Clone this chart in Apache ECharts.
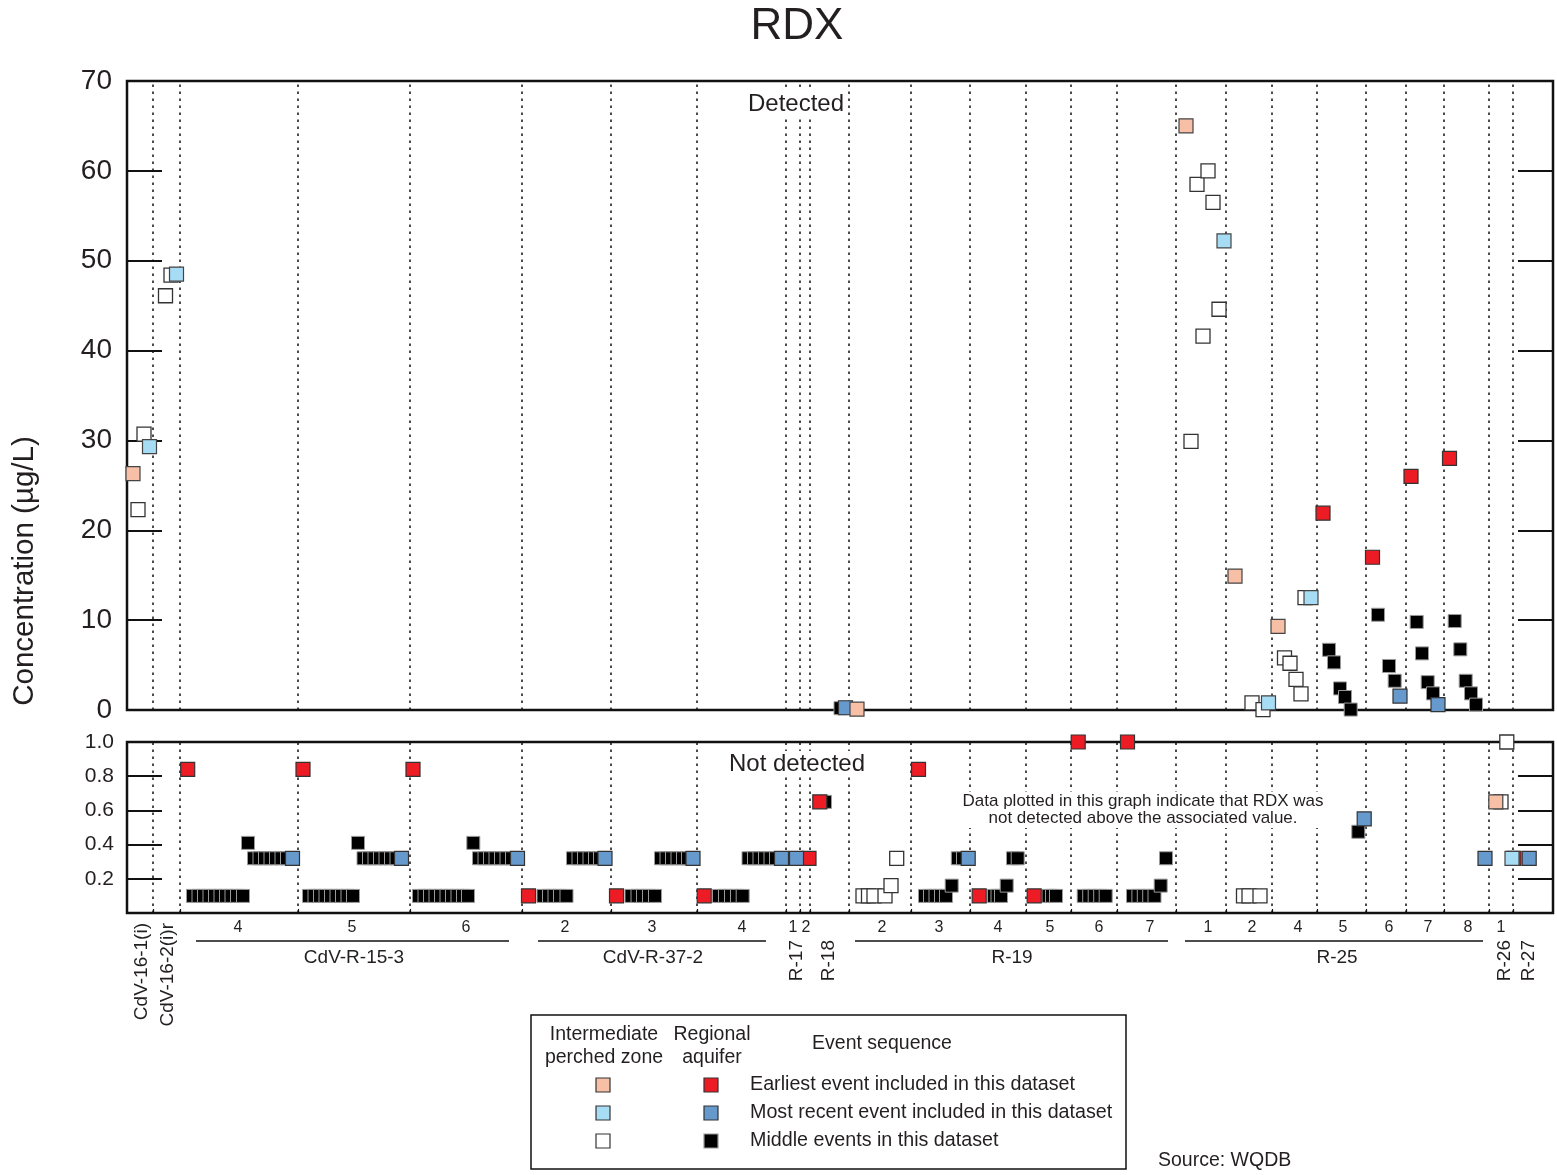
<!DOCTYPE html>
<html><head><meta charset="utf-8">
<script src="https://cdn.jsdelivr.net/npm/echarts@6/dist/echarts.min.js"></script>
<style>html,body{margin:0;padding:0;background:#fff}#c{width:1557px;height:1175px}</style>
</head><body><div id="c"></div>
<script>
// ---------------- DATA ----------------
// x = position along the well / screen sequence axis (0 .. 1426)
const xMax = 1426;
const screenBounds = [26, 53, 171, 283, 395, 484, 570, 659, 673, 683, 722, 784, 843, 899, 944, 990, 1049, 1099, 1145, 1190, 1239, 1279, 1317, 1362, 1386];
const screenLabels = ['4','5','6','2','3','4','1','2','2','3','4','5','6','7','1','2','4','5','6','7','8','1'];
const screenLabelPos = [111, 225, 339, 438, 525, 615, 666, 679, 755, 812, 871, 923, 972, 1023, 1081, 1125, 1171, 1216, 1262, 1301, 1341, 1374];
const wellGroupNames = ['CdV-R-15-3', 'CdV-R-37-2', 'R-19', 'R-25'];
const wellGroupFrom = [69, 411, 728, 1058];
const wellGroupTo = [382, 639, 1041, 1356];
const wellGroupLabelPos = [227, 526, 885, 1210];
const singleWellNames = ['CdV-16-1(i)', 'CdV-16-2(i)r', 'R-17', 'R-18', 'R-26', 'R-27'];
const singleWellPos = [15, 41, 670, 702, 1378, 1402];
const singleWellLong = [true, true, false, false, false, false];

const detTicks = [0, 10, 20, 30, 40, 50, 60, 70];
const ndTicks = [0, 0.2, 0.4, 0.6, 0.8, 1.0];

// Detected (µg/L)
const detBlack = [[713.5,0.2],[1202,6.7],[1207,5.3],[1213,2.4],[1218,1.45],[1223.7,0.05],[1251,10.6],[1262,4.9],[1267.7,3.25],[1289.7,9.8],[1295,6.3],[1300.7,3.1],[1306,1.85],[1327.7,9.9],[1333.3,6.75],[1338.7,3.25],[1344,1.85],[1349,0.6]];
const detRed = [[1196,21.9],[1245.5,17.0],[1284,26.0],[1322.5,28.0]];
const detBlue = [[718.5,0.25],[1273,1.55],[1311,0.6]];
const detWhite = [[11,22.3],[17,30.7],[38.5,46.1],[44,48.4],[1064,29.9],[1070,58.5],[1076,41.6],[1081,60.0],[1086,56.5],[1092,44.6],[1125,0.8],[1136,0.05],[1157.5,5.8],[1163,5.2],[1169,3.4],[1174,1.8],[1178,12.5]];
const detPeach = [[6,26.3],[730,0.1],[1059,65.0],[1108,14.9],[1151,9.3]];
const detLightBlue = [[22.5,29.3],[49.5,48.5],[1097,52.2],[1141.5,0.8],[1184,12.5]];

// Not detected (reporting value, µg/L)
const ndBlack = [
 [66,0.1],[71.5,0.1],[77,0.1],[82.5,0.1],[88,0.1],[93.5,0.1],[99,0.1],[104.5,0.1],[110,0.1],[116,0.1],[121,0.41],
 [127,0.32],[132.5,0.32],[138,0.32],[143.5,0.32],[149,0.32],[154.5,0.32],[160,0.32],
 [182,0.1],[187.5,0.1],[193,0.1],[198.5,0.1],[204,0.1],[209.5,0.1],[215,0.1],[220.5,0.1],[226,0.1],[231,0.41],
 [236.5,0.32],[242,0.32],[247.5,0.32],[253,0.32],[258.5,0.32],[264,0.32],[269.5,0.32],
 [292,0.1],[297.5,0.1],[303,0.1],[308.5,0.1],[314,0.1],[319.5,0.1],[325,0.1],[330.5,0.1],[336,0.1],[341,0.1],[346.3,0.41],
 [352,0.32],[357.5,0.32],[363,0.32],[368.5,0.32],[374,0.32],[379.5,0.32],[385,0.32],
 [416.5,0.1],[422,0.1],[427.5,0.1],[433,0.1],[439.5,0.1],[446,0.32],[451.5,0.32],[457,0.32],[462.5,0.32],[468,0.32],[473,0.32],
 [504.5,0.1],[510.5,0.1],[516,0.1],[522,0.1],[528,0.1],[534,0.32],[539.5,0.32],[545,0.32],[550.5,0.32],[556,0.32],[561,0.32],
 [592,0.1],[598,0.1],[604,0.1],[610,0.1],[615.7,0.1],[621.5,0.32],[627,0.32],[632.5,0.32],[638,0.32],[643.5,0.32],[649,0.32],
 [698,0.65],
 [798,0.1],[803,0.1],[808.5,0.1],[814,0.1],[819,0.1],[824.7,0.16],[830.8,0.32],[836,0.32],
 [867,0.1],[870.5,0.1],[874,0.1],[879.7,0.16],[886,0.32],[890.7,0.32],
 [921.5,0.1],[925,0.1],[929,0.1],
 [956.7,0.1],[962.2,0.1],[967.7,0.1],[973.2,0.1],[978.7,0.1],
 [1006,0.1],[1011.4,0.1],[1016.8,0.1],[1022.2,0.1],[1027.5,0.1],[1033.7,0.16],[1039,0.32],
 [1231.3,0.475]
];
const ndRed = [[60.7,0.84],[176,0.84],[286,0.84],[401.5,0.1],[489.5,0.1],[577.2,0.1],[682,0.32],[692.8,0.65],[791.5,0.84],[852.2,0.1],[907.2,0.1],[951.2,1.0],[1000.5,1.0],[1387,0.32]];
const ndBlue = [[165.5,0.32],[274.5,0.32],[390.5,0.32],[478,0.32],[566,0.32],[654.5,0.32],[669.5,0.32],[841.2,0.32],[1237.2,0.55],[1358,0.32],[1402.2,0.32]];
const ndWhite = [[736,0.1],[741.5,0.1],[747,0.1],[758,0.1],[764,0.16],[769.7,0.32],[1116.5,0.1],[1122,0.1],[1133,0.1],[1374,0.65],[1379.8,1.0]];
const ndPeach = [[1368.8,0.65]];
const ndLightBlue = [[1385,0.32]];

// ---------------- STYLE ----------------
const FONT = '"Liberation Sans", Arial, Helvetica, sans-serif';
const TXT = '#231F20';
const COL = {peach:'#F7BFA6', lightBlue:'#A7DCF5', white:'#FFFFFF', red:'#ED1C24', blue:'#6699CC', black:'#000000'};

function sc(data, gi, color, border, size, bw) {
  return {type:'scatter', xAxisIndex: gi, yAxisIndex: gi * 2, data: data, symbol: 'rect', symbolSize: size,
    clip: false, z: 3, silent: true, animation: false,
    itemStyle: {color: color, borderColor: border, borderWidth: bw, opacity: 1}};
}
function panelSeries(gi, black, red, blue, white, peach, lb) {
  return [
    sc(black, gi, COL.black, '#9a9a9a', 13, 1),
    sc(red, gi, COL.red, '#333', 14, 1.2),
    sc(blue, gi, COL.blue, '#333', 14, 1.2),
    sc(white, gi, COL.white, '#333', 14, 1.3),
    sc(peach, gi, COL.peach, '#444', 14, 1.2),
    sc(lb, gi, COL.lightBlue, '#444', 14, 1.2)
  ];
}
function dividerSeries(gi) {
  return {type:'scatter', xAxisIndex: gi, yAxisIndex: gi * 2, data: [], z: 1, silent: true, animation: false,
    markLine: {silent: true, animation: false, z: 1, symbol: ['none','none'], label: {show: false},
      lineStyle: {color: '#111', width: 1.5, type: [2.5, 4.5]},
      data: screenBounds.map(v => ({xAxis: v}))}};
}
function yAx(gi, ticks, pos, showLabel, fs, margin, fmt) {
  return {type:'value', gridIndex: gi, position: pos, min: ticks[0], max: ticks[ticks.length-1],
    interval: ticks[1] - ticks[0], axisLine: {show: false}, splitLine: {show: false},
    axisTick: {show: true, inside: true, length: 35, lineStyle: {color: '#111', width: 2}},
    axisLabel: {show: showLabel, fontSize: fs, fontFamily: FONT, color: TXT, margin: margin, formatter: fmt}};
}

const chart = echarts.init(document.getElementById('c'), null, {renderer: 'canvas'});
const option = {
  animation: false,
  backgroundColor: '#fff',
  grid: [
    {left: 127, top: 81, width: 1426, height: 629, show: true, borderColor: '#111', borderWidth: 2.5, backgroundColor: 'transparent'},
    {left: 127, top: 742, width: 1426, height: 171, show: true, borderColor: '#111', borderWidth: 2.5, backgroundColor: 'transparent'}
  ],
  xAxis: [
    {type: 'value', gridIndex: 0, min: 0, max: xMax, show: false},
    {type: 'value', gridIndex: 1, min: 0, max: xMax, axisLine: {show: false}, splitLine: {show: false},
     axisTick: {show: true, inside: true, length: 4, customValues: screenBounds, lineStyle: {color: '#111', width: 1.2}},
     axisLabel: {show: false}}
  ],
  yAxis: [
    yAx(0, detTicks, 'left', true, 28, 15, v => String(v)),
    yAx(0, detTicks, 'right', false, 28, 15, v => String(v)),
    yAx(1, ndTicks, 'left', true, 21, 13, v => (v === 0 ? '' : v.toFixed(1))),
    yAx(1, ndTicks, 'right', false, 21, 13, v => String(v))
  ],
  series: [dividerSeries(0), dividerSeries(1)]
    .concat(panelSeries(0, detBlack, detRed, detBlue, detWhite, detPeach, detLightBlue))
    .concat(panelSeries(1, ndBlack, ndRed, ndBlue, ndWhite, ndPeach, ndLightBlue))
};
chart.setOption(option);

// ---------- text / annotation graphics (positions via the library's axis) ----------
const px = v => chart.convertToPixel({xAxisIndex: 1}, v);
const axisY = chart.convertToPixel({yAxisIndex: 2}, 0);
function txt(x, y, text, size, align, vAlign, extra) {
  const el = {type: 'text', x: x, y: y, z: 50, silent: true,
    style: {text: text, font: size + 'px ' + FONT, fill: TXT, align: align || 'center', verticalAlign: vAlign || 'middle'}};
  return Object.assign(el, extra || {});
}
const g = [];
g.push(txt(797, 27, 'RDX', 44));
g.push(txt(25, 571, 'Concentration (µg/L)', 29.5, 'center', 'middle', {rotation: Math.PI / 2}));
const det = txt(796, 104, 'Detected', 24); det.style.backgroundColor = '#fff'; det.style.padding = [1, 3]; g.push(det);
const nd = txt(797, 764, 'Not detected', 24); nd.style.backgroundColor = '#fff'; nd.style.padding = [1, 3]; g.push(nd);
const note = txt(1143, 810, 'Data plotted in this graph indicate that RDX was\nnot detected above the associated value.', 17);
note.style.backgroundColor = '#fff'; note.style.lineHeight = 17; note.style.padding = [1, 3]; g.push(note);

screenLabels.forEach((s, i) => g.push(txt(px(screenLabelPos[i]), axisY + 15, s, 16)));
wellGroupNames.forEach((n, i) => {
  g.push({type: 'line', z: 50, silent: true, shape: {x1: px(wellGroupFrom[i]), y1: axisY + 28, x2: px(wellGroupTo[i]), y2: axisY + 28},
    style: {stroke: '#111', lineWidth: 1.5}});
  g.push(txt(px(wellGroupLabelPos[i]), axisY + 45, n, 19));
});
singleWellNames.forEach((n, i) => {
  g.push(txt(px(singleWellPos[i]), axisY + (singleWellLong[i] ? 10 : 27), n, 19, 'right', 'middle', {rotation: Math.PI / 2}));
});

// legend box
g.push({type: 'rect', z: 50, silent: true, shape: {x: 531, y: 1015, width: 595, height: 154}, style: {fill: 'none', stroke: '#111', lineWidth: 1.5}});
g.push(txt(604, 1035, 'Intermediate', 19.5));
g.push(txt(604, 1058, 'perched zone', 19.5));
g.push(txt(712, 1035, 'Regional', 19.5));
g.push(txt(712, 1058, 'aquifer', 19.5));
g.push(txt(882, 1044, 'Event sequence', 19.5));
const legRows = [
  [COL.peach, COL.red, 'Earliest event included in this dataset', 1085],
  [COL.lightBlue, COL.blue, 'Most recent event included in this dataset', 1113],
  [COL.white, COL.black, 'Middle events in this dataset', 1141]
];
legRows.forEach(r => {
  g.push({type: 'rect', z: 50, silent: true, shape: {x: 603 - 7, y: r[3] - 7, width: 14, height: 14}, style: {fill: r[0], stroke: '#333', lineWidth: 1.2}});
  g.push({type: 'rect', z: 50, silent: true, shape: {x: 711 - 7, y: r[3] - 7, width: 14, height: 14}, style: {fill: r[1], stroke: r[1] === COL.black ? '#9a9a9a' : '#333', lineWidth: 1.2}});
  g.push(txt(750, r[3], r[2], 19.7, 'left'));
});
g.push(txt(1158, 1161, 'Source: WQDB', 19.5, 'left'));

chart.setOption({graphic: {elements: g}});
</script>
</body></html>
